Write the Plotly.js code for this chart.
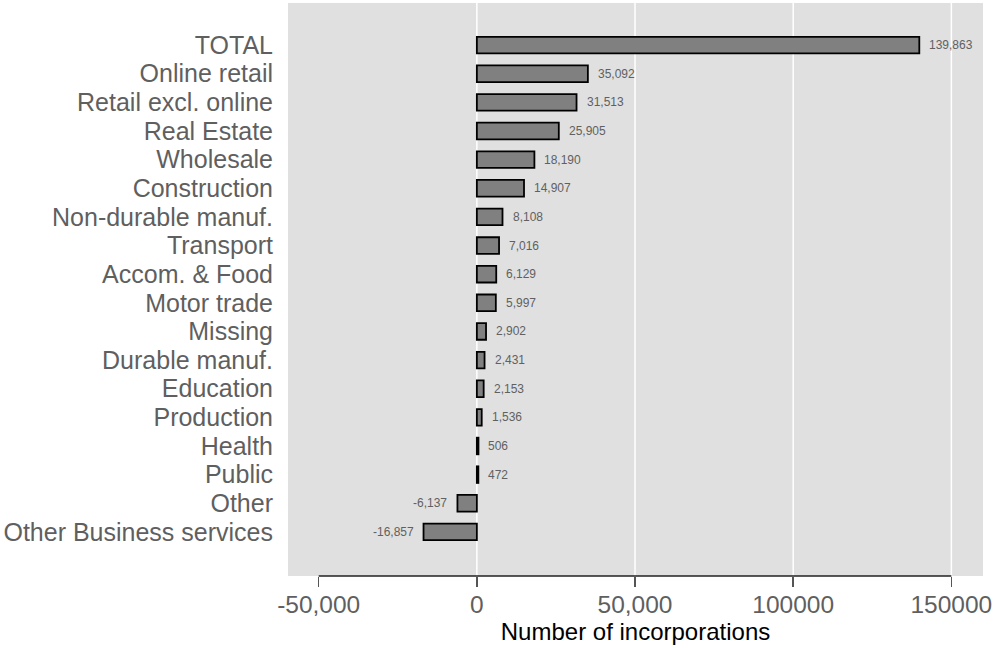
<!DOCTYPE html>
<html>
<head>
<meta charset="utf-8">
<script src="https://cdn.plot.ly/plotly-3.0.1.min.js"></script>
<style>html,body{margin:0;padding:0;background:#fff;}#chart{width:995px;height:648px;}</style>
</head>
<body>
<div id="chart"></div>
<script>
const categories = ["TOTAL","Online retail","Retail excl. online","Real Estate","Wholesale","Construction","Non-durable manuf.","Transport","Accom. & Food","Motor trade","Missing","Durable manuf.","Education","Production","Health","Public","Other","Other Business services"];
const values = [139863,35092,31513,25905,18190,14907,8108,7016,6129,5997,2902,2431,2153,1536,506,472,-6137,-16857];
const tickVals = [-50000,0,50000,100000,150000];
const tickText = ["-50,000","0","50,000","100000","150000"];
const gridVals = [0,50000,100000,150000];

const fmt = v => (v<0?"-":"") + Math.abs(v).toString().replace(/\B(?=(\d{3})+(?!\d))/g, ",");

const trace = {
  type: 'bar', orientation: 'h',
  x: values, y: categories,
  marker: {color: '#808080', line: {color: '#000', width: 1.8}},
  width: 0.58,
  hoverinfo: 'none'
};

const annotations = values.map((v,i) => ({
  x: v, y: categories[i], xref: 'x', yref: 'y',
  text: fmt(v), showarrow: false,
  xanchor: v >= 0 ? 'left' : 'right',
  xshift: v >= 0 ? 8 : -8,
  font: {size: 12, color: '#606060', family: 'Liberation Sans, Arial, sans-serif'}
}));

const shapes = gridVals.map(g => ({
  type: 'line', xref: 'x', yref: 'paper', x0: g, x1: g, y0: 0, y1: 1,
  line: {color: '#ffffff', width: 1.5}, layer: 'below'
}));
shapes.push({
  type: 'line', xref: 'x', yref: 'paper',
  x0: tickVals[0], x1: tickVals[tickVals.length-1], y0: 0, y1: 0,
  line: {color: '#222', width: 1.5}, layer: 'above'
});

const layout = {
  width: 995, height: 648,
  margin: {l: 288, r: 12, t: 3, b: 72},
  paper_bgcolor: '#ffffff', plot_bgcolor: '#e0e0e0',
  font: {family: 'Liberation Sans, Arial, sans-serif', color: '#5f5f5f'},
  showlegend: false,
  xaxis: {
    range: [-59700, 160000],
    tickvals: tickVals, ticktext: tickText,
    tickfont: {size: 24.5, color: '#5f5f5f'},
    ticks: 'outside', ticklen: 10, tickcolor: '#555', tickwidth: 1.5,
    ticklabelstandoff: -3,
    showgrid: false, zeroline: false, showline: false,
    title: {text: 'Number of incorporations', font: {size: 24, color: '#000'}, standoff: 0},
    fixedrange: true
  },
  yaxis: {
    type: 'category',
    tickmode: 'array', tickvals: categories, ticktext: categories,
    range: [categories.length - 1 + 1.54, -1.47],
    tickfont: {size: 25, color: '#5f5f5f'},
    ticks: '', showgrid: false, zeroline: false, showline: false,
    ticklabelstandoff: 14,
    fixedrange: true
  },
  annotations: annotations,
  shapes: shapes
};

Plotly.newPlot('chart', [trace], layout, {displayModeBar: false, staticPlot: true});
</script>
</body>
</html>
